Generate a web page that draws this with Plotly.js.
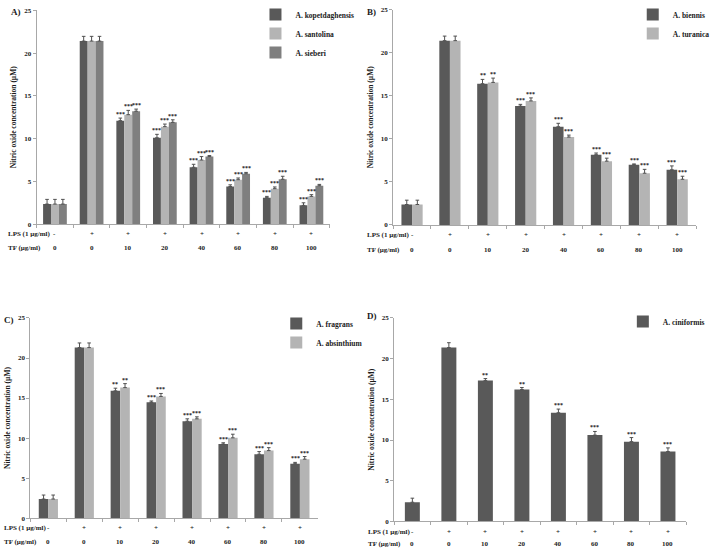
<!DOCTYPE html>
<html><head><meta charset="utf-8">
<script src="https://cdn.plot.ly/plotly-3.0.1.min.js"></script>
<style>html,body{margin:0;padding:0;background:#fff}#chart{width:715px;height:549px}</style>
</head><body><div id="chart"></div>
<script>
// ---- shared categories / row labels ----
const groups = ['Control', 'LPS', 'TF 10', 'TF 20', 'TF 40', 'TF 60', 'TF 80', 'TF 100'];
const lpsRow = ['-', '+', '+', '+', '+', '+', '+', '+'];
const tfRow = ['0', '0', '10', '20', '40', '60', '80', '100'];
const lpsLabel = 'LPS (1 µg/ml)';
const tfLabel = 'TF (µg/ml)';
const yTitle = 'Nitric oxide concentration (µM)';

// ---- Panel A ----
const aKop = [2.35, 21.4, 12.1, 10.1, 6.65, 4.4, 3.1, 2.2];
const aKopErr = [0.55, 0.55, 0.3, 0.4, 0.35, 0.2, 0.15, 0.3];
const aKopSig = ['', '', '***', '***', '***', '***', '***', '***'];
const aSan = [2.35, 21.4, 12.8, 11.4, 7.5, 5.2, 4.15, 3.25];
const aSanErr = [0.55, 0.55, 0.5, 0.3, 0.4, 0.2, 0.2, 0.2];
const aSanSig = ['', '', '***', '***', '***', '***', '***', '***'];
const aSie = [2.35, 21.4, 13.2, 11.9, 7.9, 5.9, 5.25, 4.5];
const aSieErr = [0.55, 0.55, 0.25, 0.3, 0.12, 0.15, 0.35, 0.15];
const aSieSig = ['', '', '***', '***', '***', '***', '***', '***'];

// ---- Panel B ----
const bBie = [2.37, 21.4, 16.4, 13.8, 11.4, 8.15, 7.0, 6.4];
const bBieErr = [0.5, 0.53, 0.5, 0.2, 0.4, 0.2, 0.08, 0.45];
const bBieSig = ['', '', '**', '***', '***', '***', '***', '***'];
const bTur = [2.37, 21.4, 16.55, 14.4, 10.2, 7.4, 6.0, 5.3];
const bTurErr = [0.5, 0.53, 0.5, 0.35, 0.23, 0.35, 0.45, 0.35];
const bTurSig = ['', '', '**', '***', '***', '***', '***', '***'];

// ---- Panel C ----
const cFra = [2.38, 21.3, 15.9, 14.47, 12.1, 9.25, 7.98, 6.8];
const cFraErr = [0.5, 0.58, 0.33, 0.16, 0.3, 0.16, 0.33, 0.16];
const cFraSig = ['', '', '**', '***', '***', '***', '***', '***'];
const cAbs = [2.38, 21.3, 16.3, 15.2, 12.4, 10.03, 8.43, 7.36];
const cAbsErr = [0.5, 0.58, 0.5, 0.37, 0.25, 0.45, 0.37, 0.33];
const cAbsSig = ['', '', '**', '***', '***', '***', '***', '***'];

// ---- Panel D ----
const dCin = [2.35, 21.36, 17.3, 16.2, 13.35, 10.6, 9.8, 8.58];
const dCinErr = [0.5, 0.6, 0.25, 0.25, 0.45, 0.45, 0.5, 0.45];
const dCinSig = ['', '', '**', '**', '***', '***', '***', '***'];

// ---- styling ----
const DARK = '#595959', LIGHT = '#b4b4b4', MID = '#7f7f7f';
const FONT = 'Liberation Serif, Times New Roman, serif';
const TXT = '#1a1a1a';
const AXC = '#a8a8a8';

const panels = [
  { tag: 'A)', xa: 'x', ya: 'y', legend: 'legend', barW: 0.216,
    xdom: [37/715, 333/715], ydom: [1-220/549, 1-3.3/549],
    tagPos: [16, 5], lpsY: 230, tfY: 244, rowX: 6,
    legPos: [258, -7],
    series: [
      { name: 'A. kopetdaghensis', y: aKop, e: aKopErr, s: aKopSig, c: DARK },
      { name: 'A. santolina', y: aSan, e: aSanErr, s: aSanSig, c: LIGHT },
      { name: 'A. sieberi', y: aSie, e: aSieErr, s: aSieSig, c: MID } ] },
  { tag: 'B)', xa: 'x2', ya: 'y2', legend: 'legend2', barW: 0.28,
    xdom: [397/715, 703/715], ydom: [1-220.7/549, 1-2.7/549],
    tagPos: [375, 5], lpsY: 231, tfY: 246, rowX: 369,
    legPos: [639, -7],
    series: [
      { name: 'A. biennis', y: bBie, e: bBieErr, s: bBieSig, c: DARK },
      { name: 'A. turanica', y: bTur, e: bTurErr, s: bTurSig, c: LIGHT } ] },
  { tag: 'C)', xa: 'x3', ya: 'y3', legend: 'legend3', barW: 0.267,
    xdom: [30.7/715, 321/715], ydom: [1-517.7/549, 1-315/549],
    tagPos: [9, 317], lpsY: 527.7, tfY: 541.7, rowX: 2,
    legPos: [279, 306],
    series: [
      { name: 'A. fragrans', y: cFra, e: cFraErr, s: cFraSig, c: DARK },
      { name: 'A. absinthium', y: cAbs, e: cAbsErr, s: cAbsSig, c: LIGHT } ] },
  { tag: 'D)', xa: 'x4', ya: 'y4', legend: 'legend4', barW: 0.41,
    xdom: [398/715, 693/715], ydom: [1-521/549, 1-315/549],
    tagPos: [376, 313], lpsY: 531.7, tfY: 544, rowX: 370,
    legPos: [629, 304],
    series: [
      { name: 'A. ciniformis', y: dCin, e: dCinErr, s: dCinSig, c: DARK } ] }
];

const W = 715, H = 549;
const px = v => v / W, py = v => 1 - v / H;

const traces = [];
const annotations = [];
const layout = {
  width: W, height: H, margin: { l: 0, r: 0, t: 0, b: 0 },
  paper_bgcolor: '#fff', plot_bgcolor: '#fff',
  barmode: 'overlay', showlegend: true,
  font: { family: FONT, size: 7, color: TXT, weight: 'bold' },
  annotations: annotations
};

panels.forEach((p, pi) => {
  const n = p.series.length;
  const xaKey = 'xaxis' + (pi ? pi + 1 : '');
  const yaKey = 'yaxis' + (pi ? pi + 1 : '');
  layout[xaKey] = {
    domain: p.xdom, anchor: p.ya, type: 'category',
    categoryorder: 'array', categoryarray: groups, range: [-0.5, 7.5],
    showline: true, linecolor: AXC, linewidth: 1,
    ticks: 'outside', tickson: 'boundaries', ticklen: 3, tickcolor: AXC,
    showticklabels: false, showgrid: false, zeroline: false, fixedrange: true
  };
  layout[yaKey] = {
    domain: p.ydom, anchor: p.xa, range: [0, 25], dtick: 5, tick0: 0,
    showline: true, linecolor: AXC, linewidth: 1,
    ticks: 'outside', ticklen: 3, tickcolor: AXC,
    tickfont: { family: FONT, size: 7, color: TXT, weight: 'bold' },
    showgrid: false, zeroline: false, fixedrange: true,
    title: { text: yTitle, font: { family: FONT, size: 7.5, color: TXT, weight: 'bold' }, standoff: 6 }
  };
  const legKey = p.legend;
  layout[legKey] = {
    x: px(p.legPos[0]), y: py(p.legPos[1]), xanchor: 'left', yanchor: 'top',
    bgcolor: 'rgba(0,0,0,0)', borderwidth: 0, tracegroupgap: 0,
    font: { family: FONT, size: 7.5, color: TXT, weight: 'bold' }
  };

  p.series.forEach((s, k) => {
    const off = -n * p.barW / 2 + k * p.barW;
    traces.push({
      type: 'bar', name: s.name, x: groups, y: s.y,
      xaxis: p.xa, yaxis: p.ya, legend: legKey,
      offset: off, width: p.barW,
      marker: { color: s.c, line: { width: 0 } },
      error_y: { type: 'data', array: s.e, arrayminus: s.e.map(() => 0), symmetric: false,
                 color: '#505050', thickness: 1, width: 1.8 },
      hoverinfo: 'skip'
    });
    s.s.forEach((sig, i) => {
      if (!sig) return;
      annotations.push({
        xref: p.xa, yref: p.ya, x: i + off + p.barW / 2, y: s.y[i] + s.e[i],
        text: sig, showarrow: false, xanchor: 'center', yanchor: 'bottom', yshift: -1,
        font: { family: FONT, size: 6, color: TXT }
      });
    });
  });

  // panel tag
  annotations.push({ xref: 'paper', yref: 'paper', x: px(p.tagPos[0]), y: py(p.tagPos[1]),
    text: p.tag, showarrow: false, xanchor: 'center', yanchor: 'middle',
    font: { family: FONT, size: 9, color: TXT, weight: 'bold' } });
  // row labels
  annotations.push({ xref: 'paper', yref: 'paper', x: px(p.rowX), y: py(p.lpsY),
    text: lpsLabel, showarrow: false, xanchor: 'left', yanchor: 'middle',
    font: { family: FONT, size: 7, color: TXT, weight: 'bold' } });
  annotations.push({ xref: 'paper', yref: 'paper', x: px(p.rowX), y: py(p.tfY),
    text: tfLabel, showarrow: false, xanchor: 'left', yanchor: 'middle',
    font: { family: FONT, size: 7, color: TXT, weight: 'bold' } });
  groups.forEach((g, i) => {
    annotations.push({ xref: p.xa, yref: 'paper', x: i, y: py(p.lpsY),
      text: lpsRow[i], showarrow: false, xanchor: 'center', yanchor: 'middle',
      font: { family: FONT, size: 7, color: TXT, weight: 'bold' } });
    annotations.push({ xref: p.xa, yref: 'paper', x: i, y: py(p.tfY),
      text: tfRow[i], showarrow: false, xanchor: 'center', yanchor: 'middle',
      font: { family: FONT, size: 7, color: TXT, weight: 'bold' } });
  });
});

Plotly.newPlot('chart', traces, layout, { staticPlot: true, displayModeBar: false });
</script>
</body></html>
